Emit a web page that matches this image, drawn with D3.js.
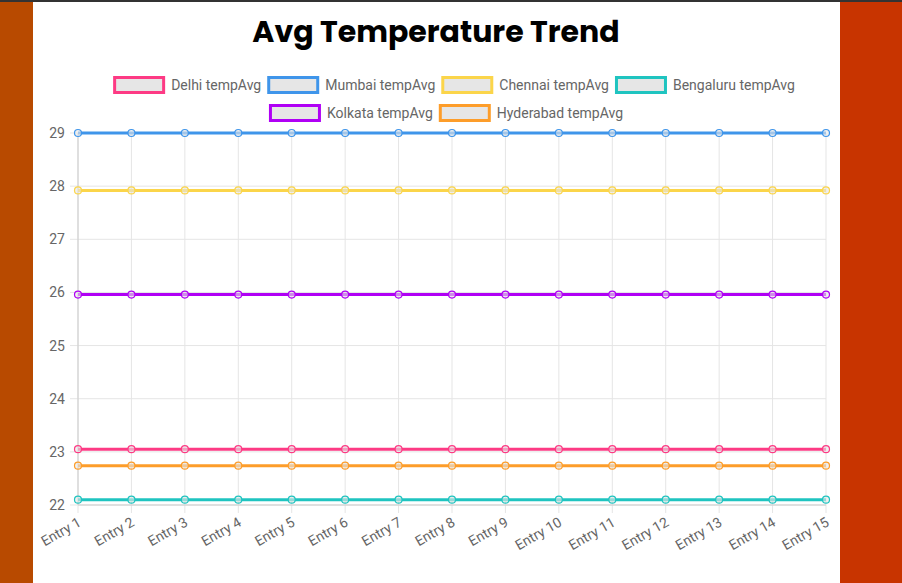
<!DOCTYPE html>
<html><head><meta charset="utf-8">
<script src="https://cdn.jsdelivr.net/npm/d3@7"></script>
<style>
body{margin:0;width:902px;height:583px;overflow:hidden;background:#fff}
</style></head><body>
<script>
var entries = d3.range(1, 16).map(function(i) { return "Entry " + i })
var cities = ["Delhi", "Mumbai", "Chennai", "Bengaluru", "Kolkata", "Hyderabad"]
var colors = ["#fd3a84", "#3f95ea", "#fbd54a", "#1fc4c0", "#b000f5", "#fd9d2a"]
var delhi = [23.05,23.05,23.05,23.05,23.05,23.05,23.05,23.05,23.05,23.05,23.05,23.05,23.05,23.05,23.05]
var mumbai = [29,29,29,29,29,29,29,29,29,29,29,29,29,29,29]
var chennai = [27.92,27.92,27.92,27.92,27.92,27.92,27.92,27.92,27.92,27.92,27.92,27.92,27.92,27.92,27.92]
var bengaluru = [22.1,22.1,22.1,22.1,22.1,22.1,22.1,22.1,22.1,22.1,22.1,22.1,22.1,22.1,22.1]
var kolkata = [25.96,25.96,25.96,25.96,25.96,25.96,25.96,25.96,25.96,25.96,25.96,25.96,25.96,25.96,25.96]
var hyderabad = [22.74,22.74,22.74,22.74,22.74,22.74,22.74,22.74,22.74,22.74,22.74,22.74,22.74,22.74,22.74]
var series = [delhi, mumbai, chennai, bengaluru, kolkata, hyderabad]
var yTicks = [22, 23, 24, 25, 26, 27, 28, 29]

var svg = d3.select("body").append("svg").attr("width", 902).attr("height", 583)
svg.append("rect").attr("width", 33).attr("height", 583).attr("fill", "#b84a00")
svg.append("rect").attr("x", 840).attr("width", 62).attr("height", 583).attr("fill", "#c83400")
svg.append("rect").attr("width", 902).attr("height", 2).attr("fill", "#333")

svg.append("text").attr("x", 436).attr("y", 42).attr("text-anchor", "middle")
    .attr("font-family", "Poppins, 'Open Sans', sans-serif").attr("font-weight", "bold")
    .attr("font-size", 30).attr("fill", "#000").text("Avg Temperature Trend")

// legend
var rows = [[0, 1, 2, 3], [4, 5]]
var font = "Roboto, 'Liberation Sans', sans-serif"
var ctx = document.createElement("canvas").getContext("2d")
ctx.font = "14px " + font
rows.forEach(function(row, ri) {
    var items = row.map(function(i) {
        var label = cities[i] + " tempAvg"
        return { i: i, label: label, w: 40 + 6 + ctx.measureText(label).width }
    })
    var total = d3.sum(items, function(d) { return d.w }) + 10 * (items.length - 1)
    var x0 = 436 - total / 2
    var yy = 85 + ri * 28
    items.forEach(function(d) {
        svg.append("rect").attr("x", x0 + 1.5).attr("y", yy - 7.5).attr("width", 49).attr("height", 15)
            .attr("fill", "#e6e6e6").attr("stroke", colors[d.i]).attr("stroke-width", 3)
        svg.append("text").attr("x", x0 + 58).attr("y", yy + 5).attr("font-family", font)
            .attr("font-size", 14).attr("fill", "#666").text(d.label)
        x0 += d.w + 18
    })
})

var x = d3.scalePoint().domain(entries).range([78, 826])
var y = d3.scaleLinear().domain([22, 29]).range([505, 133])

var g = svg.append("g")
g.selectAll(".vg").data(entries).enter().append("line")
    .attr("x1", function(d) { return x(d) }).attr("x2", function(d) { return x(d) })
    .attr("y1", 133).attr("y2", 513).attr("stroke", "#e5e5e5")
g.selectAll(".hg").data(yTicks).enter().append("line")
    .attr("x1", 70).attr("x2", 826).attr("y1", function(d) { return y(d) }).attr("y2", function(d) { return y(d) })
    .attr("stroke", "#e5e5e5")
g.append("line").attr("x1", 78).attr("x2", 78).attr("y1", 133).attr("y2", 505).attr("stroke", "#ccc")
g.append("line").attr("x1", 78).attr("x2", 826).attr("y1", 505).attr("y2", 505).attr("stroke", "#ccc")

g.selectAll(".yl").data(yTicks).enter().append("text")
    .attr("x", 65).attr("y", function(d) { return y(d) + 5 }).attr("text-anchor", "end")
    .attr("font-family", font).attr("font-size", 14).attr("fill", "#666").text(function(d) { return d })
g.selectAll(".xl").data(entries).enter().append("text")
    .attr("transform", function(d) { return "translate(" + (x(d) + 4) + ",525) rotate(-30)" })
    .attr("text-anchor", "end").attr("font-family", font).attr("font-size", 14).attr("fill", "#666")
    .text(function(d) { return d })

var line = d3.line().x(function(d, i) { return x(entries[i]) }).y(function(d) { return y(d) })
series.forEach(function(s, si) {
    g.append("path").datum(s).attr("d", line).attr("fill", "none")
        .attr("stroke", colors[si]).attr("stroke-width", 3)
    g.selectAll(".p" + si).data(s).enter().append("circle")
        .attr("cx", function(d, i) { return x(entries[i]) }).attr("cy", function(d) { return y(d) })
        .attr("r", 3.5).attr("fill", "#e6e6e6").attr("fill-opacity", 0.6)
        .attr("stroke", colors[si]).attr("stroke-width", 1.2)
})
</script>
</body></html>
